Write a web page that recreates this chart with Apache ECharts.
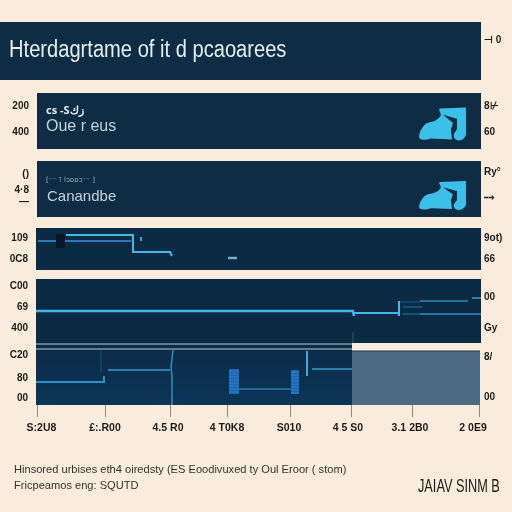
<!DOCTYPE html>
<html>
<head>
<meta charset="utf-8">
<style>html,body{margin:0;padding:0;background:#f9ecdc}#c{width:512px;height:512px}</style>
<script src="https://cdn.jsdelivr.net/npm/echarts@6/dist/echarts.min.js"></script>
</head>
<body>
<div id="c"></div>
<script>
// Shared horizontal scale ticks and labels
const xTickValues = [1, 69, 134, 191, 254, 315, 376, 443];
const xLabelValues = [5.5, 69, 132, 191, 253, 312, 374, 437];
const xLabels = ['S:2U8', '£:.R00', '4.5 R0', '4 T0K8', 'S010', '4 5 S0', '3.1 2B0', '2 0E9'];

// Side labels of each panel: values and their text
const leftValues = [[], [43, 17], [43, 27, 15], [32, 11], [57, 36, 15], [50, 27, 7]];
const leftLabels = [[], ['200', '400'], ['()', '4·8', '—'], ['109', '0C8'], ['C00', '69', '400'], ['C20', '80', '00']];
const rightValues = [[40], [43, 17], [45, 20], [32, 11], [46, 15], [48, 8]];
const rightLabels = [['⊣ 0'], ['8⊬', '60'], ['Ry°', '⤍'], ['9ot)', '66'], ['00', 'Gy'], ['8/', '00']];

// Traces of panel 3
const p3Upper = [[30, 35], [97, 35], [97, 18], [134, 18], [136, 14]];
const p3Lower = [[2, 29], [95, 29]];
const p3Block = [[24.5, 36], [24.5, 22]];
const p3Blip = [[105, 33], [105, 29]];
const p3Dash = [[192, 12], [201, 12]];

// Traces of panel 4
const p4Main = [[0, 32], [317, 32], [318, 27]];
const p4Next = [[318, 30], [363, 30]];
const p4Rise = [[363, 42], [363, 27]];
const p4Faint = [[317, 11], [317, 0]];
const p4BranchA = [[364, 41], [384, 41]];
const p4BranchB = [[384, 42], [432, 42]];
const p4BranchC = [[436, 45], [445, 45]];
const p4BranchD = [[367, 36], [386, 36]];
const p4BranchE = [[367, 29], [384, 29]];
const p4BranchF = [[384, 29], [445, 29]];

// Traces of panel 5
const p5RuleTop = [[0, 61], [316, 61]];
const p5RuleLow = [[0, 56], [316, 56]];
const p5GreyEdge = [[316, 54], [444, 54]];
const p5First = [[0, 23], [68, 23], [68, 29]];
const p5FirstStem = [[65, 33], [65, 55]];
const p5Second = [[72, 35], [134, 35]];
const p5Drop = [[137, 55], [135, 37], [136, 30], [136, 0]];
const p5Third = [[203, 16], [256, 16]];
const p5Fourth = [[271, 54], [271, 29]];
const p5Fifth = [[276, 36], [316, 36]];
const p5Columns = [[193, 203, 11, 36], [255, 263, 11, 35]];

// Silhouettes sitting at the right end of panels 1 and 2
const iconPoint1 = [[406.5, 25]];
const iconPoint2 = [[406.5, 21.5]];
const iconBody = 'path://M0 30C0 24 5 15 12 15C17 14 20 12 22 8L20 3L21 2L47 1L47 24C48 29 44 33 40 33C36 33 33 29 36 25L38 22L38 12L24 8L34 16L32 22L33 32L12 31C6 33 1 33 0 30Z';

const ink = '#1d1b18';
const panel = '#0e2c43';
const panelDeep = '#0b2a44';
const bright = '#45b6e6';
const middle = '#2f8fca';
const dim = '#1f5f86';

const heights = [58, 56, 56, 42, 64, 62];
const tops = [22, 93, 161, 228, 279, 343];
const lefts = [0, 37, 37, 36, 36, 36];
const widths = [481, 444, 444, 445, 445, 445];

const grids = heights.map((h, i) => ({
  left: lefts[i], top: tops[i], width: widths[i], height: h,
  show: i !== 5, backgroundColor: i === 3 || i === 4 ? panelDeep : panel, borderWidth: 0
}));

const sideLabel = (values, labels, margin) => ({
  show: values.length > 0, margin, customValues: values,
  color: ink, fontFamily: 'Liberation Sans', fontWeight: 'bold', fontSize: 10,
  formatter: v => labels[values.indexOf(v)] || ''
});

const yAxes = [];
const xAxes = heights.map((h, i) => {
  const base = { type: 'value', gridIndex: i, min: 0, max: i === 0 ? 481 : 445, splitLine: { show: false },
                 axisLine: { show: false }, axisTick: { show: false }, axisLabel: { show: false } };
  if (i === 5) {
    base.axisTick = { show: true, length: 12, customValues: xTickValues, lineStyle: { color: '#8b8a80', width: 1 } };
    base.axisLabel = { show: true, margin: 18, customValues: xLabelValues, color: ink, hideOverlap: false,
      fontFamily: 'Liberation Sans', fontWeight: 'bold', fontSize: 10.5,
      formatter: v => xLabels[xLabelValues.indexOf(v)] || '' };
  }
  const y = { type: 'value', gridIndex: i, min: 0, max: h, splitLine: { show: false },
              axisLine: { show: false }, axisTick: { show: false } };
  yAxes.push(Object.assign({}, y, { position: 'left', axisLabel: sideLabel(leftValues[i], leftLabels[i], 8) }));
  yAxes.push(Object.assign({}, y, { position: 'right', axisLabel: sideLabel(rightValues[i], rightLabels[i], 3) }));
  return base;
});

const trace = (g, pts, color, width, extra) => Object.assign({
  type: 'line', xAxisIndex: g, yAxisIndex: g * 2, data: pts, symbol: 'none', silent: true,
  lineStyle: { color, width, cap: 'butt', join: 'miter' }, z: 3
}, extra || {});

const series = [
  // Panel 5 backdrop: dark on the left, slate on the right
  trace(5, p5RuleTop, '#7d9aa9', 1.5, {
    markArea: { silent: true, z: 1, data: [
      [{ xAxis: 0, yAxis: 0, itemStyle: { color: { type: 'linear', x: 0, y: 0, x2: 0, y2: 1,
          colorStops: [{ offset: 0, color: '#0b2a45' }, { offset: 1, color: '#0c3558' }] } } },
       { xAxis: 316, yAxis: 62 }],
      [{ xAxis: 316, yAxis: 0, itemStyle: { color: '#4c6a82' } }, { xAxis: 444, yAxis: 54 }]
    ] }
  }),
  trace(5, p5RuleLow, '#7d9aa9', 1.5),
  trace(5, p5GreyEdge, '#1c3a52', 1),

  trace(3, p3Lower, '#2a78b8', 2),
  trace(3, p3Upper, bright, 2),
  trace(3, p3Block, '#06172a', 9),
  trace(3, p3Blip, '#4aa6c8', 2),
  trace(3, p3Dash, '#74aec4', 2.5),

  trace(4, p4Main, bright, 2.5),
  trace(4, p4Next, bright, 2),
  trace(4, p4Rise, bright, 2),
  trace(4, p4Faint, '#3a5a70', 1),
  trace(4, p4BranchA, dim, 1),
  trace(4, p4BranchB, '#2f88b8', 1.5),
  trace(4, p4BranchC, '#3a9cc8', 1.5),
  trace(4, p4BranchD, dim, 1.5),
  trace(4, p4BranchE, dim, 1.5),
  trace(4, p4BranchF, middle, 1.5),

  trace(5, p5First, middle, 2),
  trace(5, p5FirstStem, '#164a68', 1.5),
  trace(5, p5Second, '#3b9cca', 1.5),
  trace(5, p5Drop, '#2f8fb8', 1.5),
  trace(5, p5Third, '#2a78a8', 1.5),
  trace(5, p5Fourth, '#3fa8dc', 2),
  trace(5, p5Fifth, '#2fa0d0', 1.5),
  {
    type: 'custom', xAxisIndex: 5, yAxisIndex: 10, silent: true, z: 4, data: p5Columns,
    encode: { x: [0, 1], y: [2, 3] },
    renderItem: (params, api) => {
      const a = api.coord([api.value(0), api.value(3)]);
      const b = api.coord([api.value(1), api.value(2)]);
      const children = [{ type: 'rect', shape: { x: a[0], y: a[1], width: b[0] - a[0], height: b[1] - a[1] },
                          style: { fill: '#1a68b4' } }];
      for (let y = a[1] + 2; y < b[1]; y += 3) {
        children.push({ type: 'line', shape: { x1: a[0], y1: y, x2: b[0], y2: y },
                        style: { stroke: '#2b82c8', lineWidth: 1 } });
      }
      return { type: 'group', children };
    }
  },

  { type: 'scatter', xAxisIndex: 1, yAxisIndex: 2, data: iconPoint1, symbol: iconBody, symbolSize: [47, 33],
    itemStyle: { color: '#3cc0ea', opacity: 1 }, silent: true, z: 3 },
  { type: 'scatter', xAxisIndex: 2, yAxisIndex: 4, data: iconPoint2, symbol: iconBody, symbolSize: [47, 29],
    itemStyle: { color: '#3cc0ea', opacity: 1 }, silent: true, z: 3 }
];

const textStyle = (x, y, text, size, fill, family, extra, scaleX) => ({
  type: 'text', x, y, z: 20, silent: true, scaleX: scaleX || 1,
  style: Object.assign({ text, fill, fontSize: size, fontFamily: family || 'Liberation Sans', textVerticalAlign: 'middle' }, extra || {})
});

const chart = echarts.init(document.getElementById('c'), null, { renderer: 'canvas', width: 512, height: 512 });
chart.setOption({
  animation: false,
  backgroundColor: '#f9ecdc',
  grid: grids,
  xAxis: xAxes,
  yAxis: yAxes,
  series,
  graphic: [
    textStyle(9, 51, 'Hterdagrtame of it d pcaoarees', 23, '#e6eef0', null, null, 0.875),
    textStyle(46, 111, 'cs -Sزك', 11, '#e3ecef', 'Noto Sans', { fontWeight: 'bold' }),
    textStyle(46, 127, 'Oue r eus', 16, '#c3d3da'),
    textStyle(46, 180, '[⁻⁻ ˥ lɔɒɒɔ⁻⁻ ]', 7, '#9fb6c2', 'DejaVu Sans'),
    textStyle(47, 197, 'Canandbe', 15, '#c3d3da'),
    textStyle(14, 470, 'Hinsored urbises eth4 oiredsty (ES Eoodivuxed ty Oul Eroor ( stom)', 11.1, '#33322e'),
    textStyle(14, 486, 'Fricpeamos eng: SQUTD', 11.1, '#33322e'),
    textStyle(418, 487, 'JAIAV SINM B', 19, ink, 'Liberation Sans', null, 0.67)
  ]
});
</script>
</body>
</html>
